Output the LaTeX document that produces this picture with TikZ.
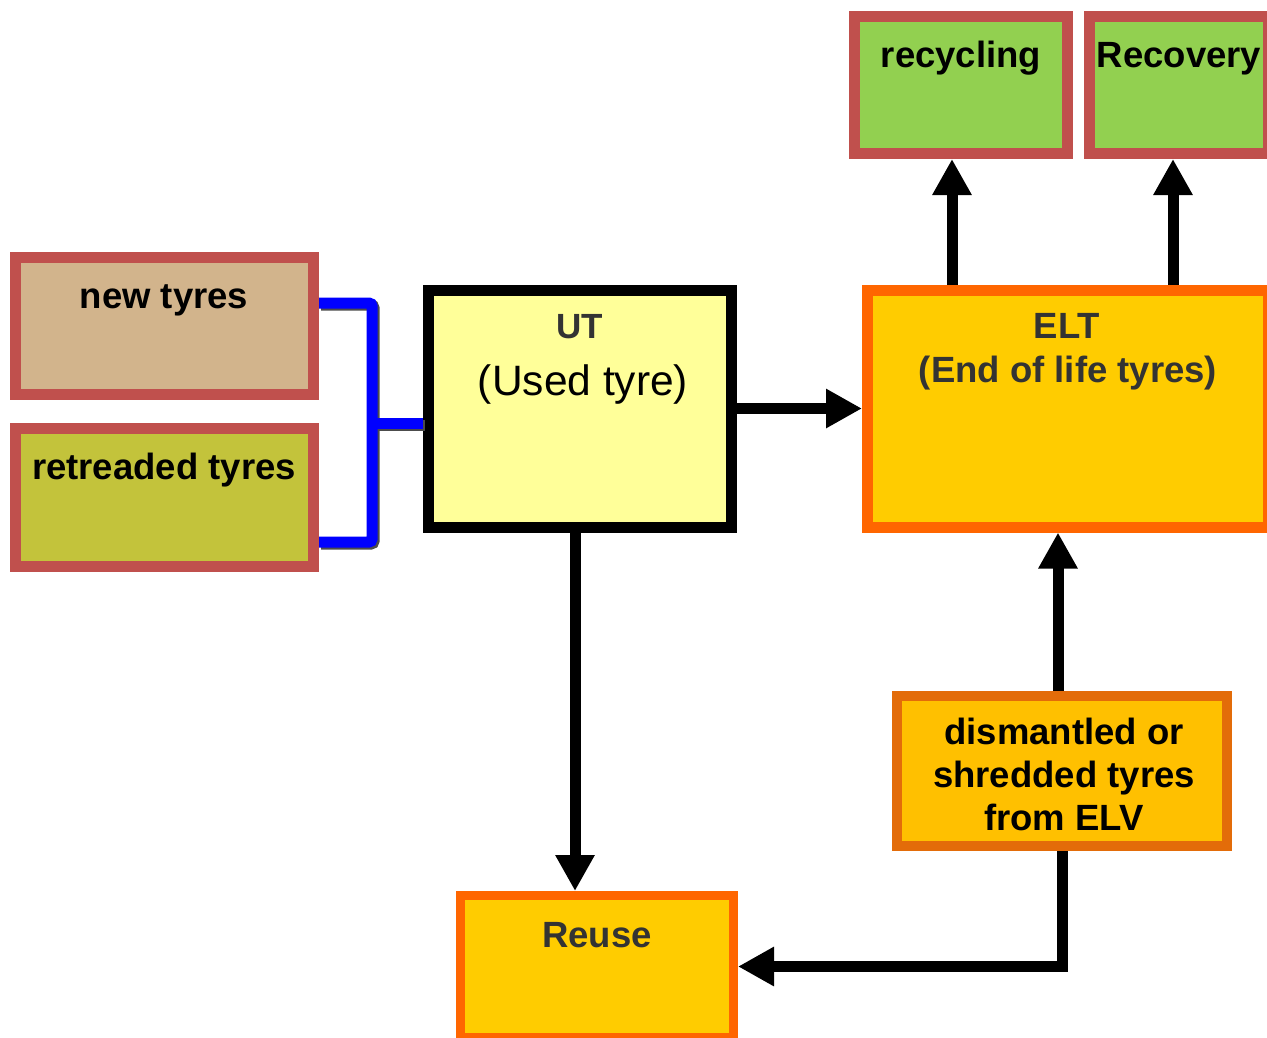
\documentclass[tikz,border=0pt]{standalone}
\usepackage{fontspec}
\setmainfont{Liberation Sans}
\usetikzlibrary{arrows.meta}
\definecolor{redb}{HTML}{C0504D}
\definecolor{tanfill}{HTML}{D2B48C}
\definecolor{olivefill}{HTML}{C3C33B}
\definecolor{greenfill}{HTML}{92D050}
\definecolor{utfill}{HTML}{FFFF99}
\definecolor{orangeb}{HTML}{FF6600}
\definecolor{goldfill}{HTML}{FFCC00}
\definecolor{darkorange}{HTML}{E36C09}
\definecolor{ambfill}{HTML}{FFC000}
\definecolor{txtgrey}{HTML}{333333}
\begin{document}
\begin{tikzpicture}[x=1pt,y=-1pt,
  box/.style={rectangle, line width=11pt, inner sep=0pt},
  lbl/.style={anchor=base, inner sep=0pt, font=\fontsize{36.5}{43}\selectfont\bfseries},
  arr/.style={draw=black, line width=11pt, -{Triangle[length=36pt,width=37pt]}},
  bl/.style={draw=blue, line width=11pt, rounded corners=3pt},
  blshadow/.style={draw=black!70, line width=11pt, rounded corners=3pt, transform canvas={xshift=2pt,yshift=-2pt}}
]
\path[use as bounding box] (0,0) rectangle (1267,1037);
\clip (0,0) rectangle (1267,1037);

% boxes
\node[box, draw=redb, fill=tanfill, minimum width=298pt, minimum height=137pt] (new) at (164.5,326) {};
\node[box, draw=redb, fill=olivefill, minimum width=298pt, minimum height=138pt] (ret) at (164.5,497.5) {};
\node[box, draw=redb, fill=greenfill, minimum width=213pt, minimum height=137pt] (rec) at (961,85) {};
\node[box, draw=redb, fill=greenfill, minimum width=179pt, minimum height=137pt] (recov) at (1179,85) {};
\node[box, draw=black, fill=utfill, minimum width=303pt, minimum height=237pt] (ut) at (580,408.5) {};
\node[box, draw=orangeb, fill=goldfill, minimum width=401pt, minimum height=237pt] (elt) at (1068,408.5) {};
\node[box, draw=darkorange, fill=ambfill, line width=10pt, minimum width=330pt, minimum height=150pt] (dis) at (1062,771) {};
\node[box, draw=orangeb, fill=goldfill, line width=9pt, minimum width=273pt, minimum height=142pt] (reuse) at (597,966.5) {};

% texts
\node[lbl] (newtxt) at (164,308) {new tyres};
\node[lbl] (rettxt) at (164,479) {retreaded tyres};
\node[lbl] (rectxt) at (961,67) {recycling};
\node[lbl] (recovtxt) at (1179,67) {Recovery};
\node[lbl, text=txtgrey, font=\fontsize{35}{42}\selectfont\bfseries] (uttxt) at (580,338) {UT};
\node[lbl, font=\fontsize{42.5}{48}\selectfont] (utsub) at (583,395) {(Used tyre)};
\node[lbl, text=txtgrey] (elttxt) at (1067,338) {ELT};
\node[lbl, text=txtgrey] (eltsub) at (1068,382) {(End of life tyres)};
\node[lbl, align=center] (distxt) at (1064,830) {dismantled or\\shredded tyres\\from ELV};
\node[lbl, text=txtgrey] (reusetxt) at (597,947) {Reuse};

% blue bracket
\coordinate (j) at (372,423);
\draw[blshadow] ([yshift=23pt]new.east) -| (j) |- ([yshift=-44.5pt]ret.east);
\draw[blshadow] (j) -- (ut.west |- j);
\draw[bl] ([yshift=23pt]new.east) -| (j) |- ([yshift=-44.5pt]ret.east);
\draw[bl] (j) -- (ut.west |- j);

% arrows
\draw[arr] (ut.east) -- (elt.west);
\draw[arr] ([xshift=-5pt]ut.south) -- ([xshift=-5pt]ut.south |- reuse.north);
\draw[arr] ([xshift=-9pt]rec.south |- elt.north) -- ([xshift=-9pt]rec.south);
\draw[arr] ([xshift=-6pt]recov.south |- elt.north) -- ([xshift=-6pt]recov.south);
\draw[arr] ([xshift=-4pt]dis.north) -- ([xshift=-4pt]dis.north |- elt.south);
\draw[arr] (dis.south) |- (reuse.east);
\end{tikzpicture}
\end{document}
